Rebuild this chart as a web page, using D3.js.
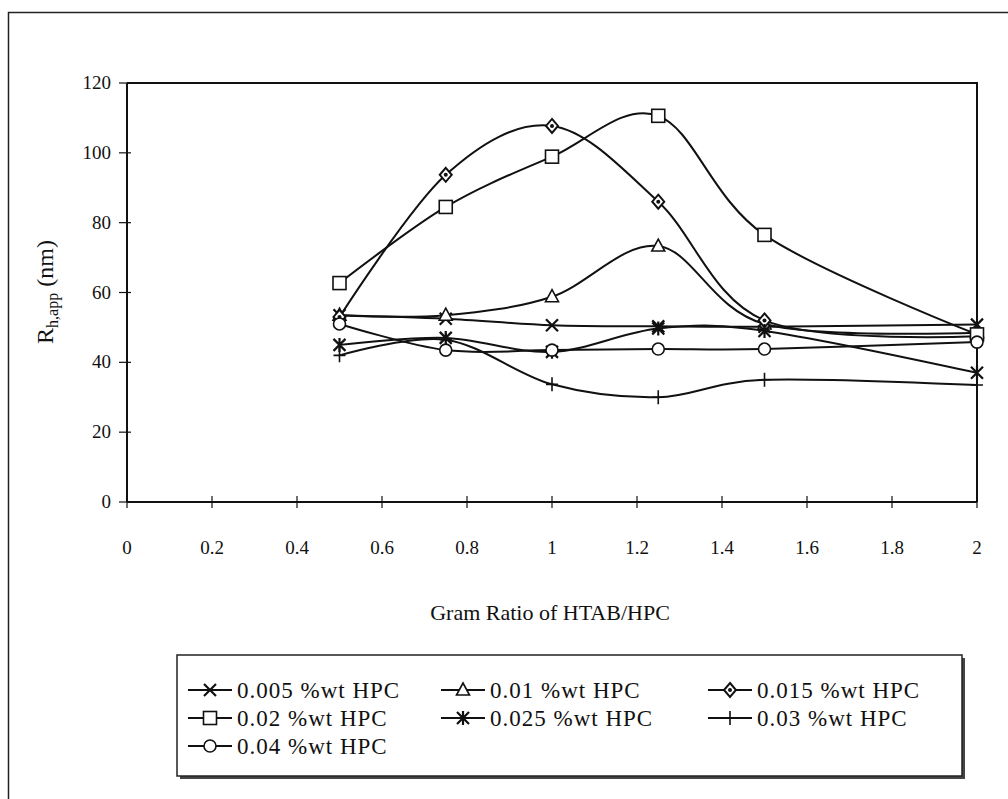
<!DOCTYPE html>
<html>
<head>
<meta charset="utf-8">
<script src="https://cdn.jsdelivr.net/npm/d3@7"></script>
<style>
  body { margin: 0; background: #fff; }
  svg text { font-family: "Liberation Serif", "DejaVu Serif", serif; fill: #111; }
</style>
</head>
<body>
<svg id="chart" width="1008" height="799"></svg>
<script>
// gram ratio values on the x axis
var ratios = [0.5, 0.75, 1, 1.25, 1.5, 2];

// Rh,app (nm) per HPC concentration
var hpc005 = [53.5, 52.5, 50.6, 50.3, 50.2, 50.8];
var hpc010 = [53.5, 53.5, 58.8, 73.3, 51, 48.5];
var hpc015 = [53, 93.7, 107.7, 86, 52, 47.5];
var hpc020 = [62.7, 84.5, 98.9, 110.6, 76.5, 48];
var hpc025 = [45, 47, 43, 49.7, 49, 37];
var hpc030 = [42, 46.5, 33.7, 30, 35, 33.5];
var hpc040 = [51, 43.5, 43.5, 43.8, 43.8, 45.8];

var seriesNames = ["0.005 %wt HPC", "0.01 %wt HPC", "0.015 %wt HPC", "0.02 %wt HPC",
                   "0.025 %wt HPC", "0.03 %wt HPC", "0.04 %wt HPC"];
var seriesMarks = ["x", "triangle", "diamond", "square", "asterisk", "plus", "circle"];
var seriesVals = [hpc005, hpc010, hpc015, hpc020, hpc025, hpc030, hpc040];

var xTicks = [0, 0.2, 0.4, 0.6, 0.8, 1, 1.2, 1.4, 1.6, 1.8, 2];
var yTicks = [0, 20, 40, 60, 80, 100, 120];

var svg = d3.select("#chart");

// outer frame (page border)
svg.append("path")
    .attr("d", "M8.5,799 L8.5,12.5 L1008,12.5")
    .attr("fill", "none").attr("stroke", "#222").attr("stroke-width", 1.5);

var pLeft = 127, pRight = 977, pTop = 83, pBottom = 502;
var x = d3.scaleLinear().domain([0, 2]).range([pLeft, pRight]);
var y = d3.scaleLinear().domain([0, 120]).range([pBottom, pTop]);

// plot box top and right edge
svg.append("path")
    .attr("d", "M" + pLeft + "," + pTop + " L" + pRight + "," + pTop + " L" + pRight + "," + pBottom)
    .attr("fill", "none").attr("stroke", "#111").attr("stroke-width", 2);

// y axis
var yAxis = svg.append("g").attr("transform", "translate(" + pLeft + ",0)");
yAxis.append("line").attr("x1", 0).attr("x2", 0).attr("y1", pTop).attr("y2", pBottom)
    .attr("stroke", "#111").attr("stroke-width", 2);
yAxis.selectAll("line.tk").data(yTicks).enter().append("line").attr("class", "tk")
    .attr("x1", -8).attr("x2", 4)
    .attr("y1", function(d){ return y(d); }).attr("y2", function(d){ return y(d); })
    .attr("stroke", "#111").attr("stroke-width", 1.2);
yAxis.selectAll("text").data(yTicks).enter().append("text")
    .attr("x", -16).attr("y", function(d){ return y(d) + 6; })
    .attr("text-anchor", "end").attr("font-size", 19)
    .text(function(d){ return d; });

// x axis
var xAxis = svg.append("g").attr("transform", "translate(0," + pBottom + ")");
xAxis.append("line").attr("x1", pLeft).attr("x2", pRight).attr("y1", 0).attr("y2", 0)
    .attr("stroke", "#111").attr("stroke-width", 2);
xAxis.selectAll("line.tk").data(xTicks).enter().append("line").attr("class", "tk")
    .attr("x1", function(d){ return x(d); }).attr("x2", function(d){ return x(d); })
    .attr("y1", -6).attr("y2", 6)
    .attr("stroke", "#111").attr("stroke-width", 1.2);
xAxis.selectAll("text").data(xTicks).enter().append("text")
    .attr("x", function(d){ return x(d); }).attr("y", 52)
    .attr("text-anchor", "middle").attr("font-size", 19)
    .text(function(d){ return d; });

svg.append("text").attr("x", 550).attr("y", 620)
    .attr("text-anchor", "middle").attr("font-size", 22)
    .text("Gram Ratio of HTAB/HPC");

var yt = svg.append("text")
    .attr("transform", "translate(53,292) rotate(-90)")
    .attr("text-anchor", "middle").attr("font-size", 24);
yt.append("tspan").text("R");
yt.append("tspan").attr("font-size", 16).attr("dy", 5).text("h,app");
yt.append("tspan").attr("dy", -5).text(" (nm)");

// marker drawing
function drawMark(g, kind, cx, cy) {
    var s = 6;
    var st = "#111";
    if (kind === "x") {
        g.append("path").attr("d", "M" + (cx-s) + "," + (cy-s) + "L" + (cx+s) + "," + (cy+s) +
            "M" + (cx-s) + "," + (cy+s) + "L" + (cx+s) + "," + (cy-s))
            .attr("stroke", st).attr("stroke-width", 2.2);
    } else if (kind === "asterisk") {
        g.append("path").attr("d", "M" + (cx-s) + "," + (cy-s) + "L" + (cx+s) + "," + (cy+s) +
            "M" + (cx-s) + "," + (cy+s) + "L" + (cx+s) + "," + (cy-s) +
            "M" + cx + "," + (cy-s-1) + "L" + cx + "," + (cy+s+1))
            .attr("stroke", st).attr("stroke-width", 2.2);
    } else if (kind === "plus") {
        g.append("path").attr("d", "M" + cx + "," + (cy-s-1) + "L" + cx + "," + (cy+s+1) +
            "M" + (cx-s) + "," + cy + "L" + (cx+s) + "," + cy)
            .attr("stroke", st).attr("stroke-width", 1.6);
    } else if (kind === "square") {
        g.append("rect").attr("x", cx-6.5).attr("y", cy-6.5).attr("width", 13).attr("height", 13)
            .attr("fill", "#fff").attr("stroke", st).attr("stroke-width", 1.6);
    } else if (kind === "circle") {
        g.append("circle").attr("cx", cx).attr("cy", cy).attr("r", 6)
            .attr("fill", "#fff").attr("stroke", st).attr("stroke-width", 1.6);
    } else if (kind === "triangle") {
        g.append("path").attr("d", "M" + cx + "," + (cy-7) + "L" + (cx+6.5) + "," + (cy+5) +
            "L" + (cx-6.5) + "," + (cy+5) + "Z")
            .attr("fill", "#fff").attr("stroke", st).attr("stroke-width", 1.6);
    } else if (kind === "diamond") {
        g.append("path").attr("d", "M" + cx + "," + (cy-7) + "L" + (cx+6) + "," + cy +
            "L" + cx + "," + (cy+7) + "L" + (cx-6) + "," + cy + "Z")
            .attr("fill", "#fff").attr("stroke", st).attr("stroke-width", 2);
        g.append("circle").attr("cx", cx).attr("cy", cy).attr("r", 2).attr("fill", st);
    }
}

var line = d3.line()
    .x(function(d){ return x(d[0]); })
    .y(function(d){ return y(d[1]); })
    .curve(d3.curveCardinal.tension(0));

var plot = svg.append("g");
seriesVals.forEach(function(vals, i) {
    var pts = ratios.map(function(r, j){ return [r, vals[j]]; });
    plot.append("path").attr("d", line(pts))
        .attr("fill", "none").attr("stroke", "#111").attr("stroke-width", 2);
});
seriesVals.forEach(function(vals, i) {
    var g = plot.append("g");
    ratios.forEach(function(r, j){ drawMark(g, seriesMarks[i], x(r), y(vals[j])); });
});

// legend
var lg = svg.append("g");
lg.append("rect").attr("x", 180).attr("y", 658).attr("width", 785).attr("height", 121).attr("fill", "#444");
lg.append("rect").attr("x", 177).attr("y", 655).attr("width", 785).attr("height", 121)
    .attr("fill", "#fff").attr("stroke", "#222").attr("stroke-width", 1.5);
var colX = [188, 441, 708];
var rowY = [690, 718, 746];
seriesNames.forEach(function(name, i) {
    var cx = colX[i % 3], cy = rowY[Math.floor(i / 3)];
    var g = lg.append("g");
    g.append("line").attr("x1", cx).attr("x2", cx + 44).attr("y1", cy).attr("y2", cy)
        .attr("stroke", "#111").attr("stroke-width", 2);
    drawMark(g, seriesMarks[i], cx + 22, cy);
    g.append("text").attr("x", cx + 49).attr("y", cy + 8).attr("font-size", 23)
        .attr("letter-spacing", 1).text(name);
});
</script>
</body>
</html>
